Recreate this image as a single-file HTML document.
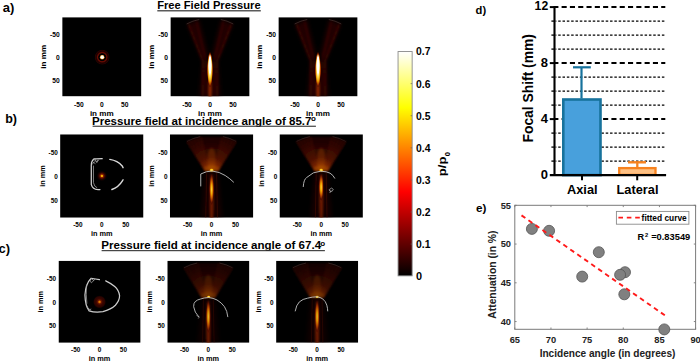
<!DOCTYPE html><html><head><meta charset="utf-8"><style>html,body{margin:0;padding:0;background:#fff;width:700px;height:361px;overflow:hidden}svg{display:block}</style></head><body>
<svg width="700" height="361" viewBox="0 0 700 361" font-family="Liberation Sans" font-weight="bold">
<defs>
<linearGradient id="hot" x1="0" y1="0" x2="0" y2="1">
<stop offset="0" stop-color="#ffffff"/><stop offset="0.25" stop-color="#ffff00"/><stop offset="0.625" stop-color="#ff0000"/><stop offset="1" stop-color="#000000"/></linearGradient>
<radialGradient id="hotspot"><stop offset="0" stop-color="#ffffff"/><stop offset="0.45" stop-color="#ffffff"/><stop offset="0.65" stop-color="#ffe070"/><stop offset="0.82" stop-color="#d05000"/><stop offset="1" stop-color="#400000" stop-opacity="0"/></radialGradient>
<radialGradient id="hotspot2"><stop offset="0" stop-color="#ffd800"/><stop offset="0.16" stop-color="#e8a000"/><stop offset="0.3" stop-color="#902000"/><stop offset="0.55" stop-color="#3a0600"/><stop offset="1" stop-color="#200000" stop-opacity="0"/></radialGradient>
<radialGradient id="hotspot3"><stop offset="0" stop-color="#f0a000"/><stop offset="0.13" stop-color="#c86000"/><stop offset="0.28" stop-color="#6a1400"/><stop offset="0.5" stop-color="#3a0600"/><stop offset="0.8" stop-color="#2a0300"/><stop offset="1" stop-color="#200000" stop-opacity="0"/></radialGradient>
<radialGradient id="ring"><stop offset="0" stop-color="#000" stop-opacity="0"/><stop offset="0.42" stop-color="#000" stop-opacity="0"/><stop offset="0.52" stop-color="#5a0800"/><stop offset="0.6" stop-color="#6a0a00"/><stop offset="0.7" stop-color="#2a0200"/><stop offset="0.78" stop-color="#1a0000"/><stop offset="0.88" stop-color="#2a0300"/><stop offset="1" stop-color="#000" stop-opacity="0"/></radialGradient>
<radialGradient id="beamO"><stop offset="0" stop-color="#fff8c0"/><stop offset="0.4" stop-color="#ffe060"/><stop offset="0.65" stop-color="#e8a000"/><stop offset="0.85" stop-color="#902800"/><stop offset="1" stop-color="#300000" stop-opacity="0"/></radialGradient>
<radialGradient id="beamW"><stop offset="0" stop-color="#ffffff"/><stop offset="0.7" stop-color="#ffffff"/><stop offset="1" stop-color="#fff4b0" stop-opacity="0"/></radialGradient>
<radialGradient id="beam"><stop offset="0" stop-color="#ffffff"/><stop offset="0.3" stop-color="#ffffff"/><stop offset="0.5" stop-color="#fff0a0"/><stop offset="0.68" stop-color="#f0a000"/><stop offset="0.85" stop-color="#802000"/><stop offset="1" stop-color="#300000" stop-opacity="0"/></radialGradient>
<radialGradient id="beamB"><stop offset="0" stop-color="#ffd040"/><stop offset="0.3" stop-color="#f0a800"/><stop offset="0.6" stop-color="#b84800"/><stop offset="0.85" stop-color="#5a1000"/><stop offset="1" stop-color="#300000" stop-opacity="0"/></radialGradient>
<radialGradient id="yspot"><stop offset="0" stop-color="#fff080"/><stop offset="0.5" stop-color="#ffc000"/><stop offset="1" stop-color="#c06000" stop-opacity="0"/></radialGradient>
<linearGradient id="fanG" x1="0" y1="0" x2="0" y2="1"><stop offset="0" stop-color="#2a0300"/><stop offset="0.5" stop-color="#501000"/><stop offset="1" stop-color="#a03c00"/></linearGradient>
<linearGradient id="fanG3" x1="0" y1="0" x2="0" y2="1"><stop offset="0" stop-color="#1a0000"/><stop offset="0.4" stop-color="#3a0800"/><stop offset="0.75" stop-color="#702000"/><stop offset="1" stop-color="#a04000"/></linearGradient>
<radialGradient id="fanHot"><stop offset="0" stop-color="#c06000" stop-opacity="0.8"/><stop offset="0.6" stop-color="#802000" stop-opacity="0.5"/><stop offset="1" stop-color="#400800" stop-opacity="0"/></radialGradient>
<linearGradient id="fanG2" x1="0" y1="0" x2="0" y2="1"><stop offset="0" stop-color="#400600" stop-opacity="0.6"/><stop offset="0.6" stop-color="#802000"/><stop offset="1" stop-color="#d07000"/></linearGradient>
<linearGradient id="colG" x1="0" y1="0" x2="0" y2="1"><stop offset="0" stop-color="#801800"/><stop offset="0.45" stop-color="#e08000"/><stop offset="1" stop-color="#ffe040"/></linearGradient>
<filter id="blur05" x="-50%" y="-50%" width="200%" height="200%"><feGaussianBlur stdDeviation="0.5"/></filter>
<filter id="blur1" x="-50%" y="-50%" width="200%" height="200%"><feGaussianBlur stdDeviation="1.5"/></filter>
<filter id="blur15" x="-50%" y="-50%" width="200%" height="200%"><feGaussianBlur stdDeviation="1.5"/></filter>
<filter id="blur2" x="-50%" y="-50%" width="200%" height="200%"><feGaussianBlur stdDeviation="2.5"/></filter>
</defs>
<text x="2.70" y="12.30" font-size="13" text-anchor="start" fill="#000" >a)</text>
<text x="5.20" y="123.00" font-size="12.5" text-anchor="start" fill="#000" >b)</text>
<text x="-1.60" y="253.00" font-size="13" text-anchor="start" fill="#000" >c)</text>
<text x="475.60" y="14.30" font-size="11.2" text-anchor="start" fill="#000" >d)</text>
<text x="476.00" y="212.00" font-size="11.7" text-anchor="start" fill="#000" >e)</text>
<text x="157.20" y="8.60" font-size="11.15" text-anchor="start" fill="#000" >Free Field Pressure</text>
<rect x="157.3" y="10.2" width="103.5" height="1.2" fill="#333"/>
<text x="92.00" y="124.50" font-size="11.55" text-anchor="start" fill="#000" >Pressure field at incidence angle of 85.7</text>
<text x="311.00" y="120.90" font-size="8" text-anchor="start" fill="#000" >o</text>
<rect x="92.6" y="125.7" width="223.3" height="1.1" fill="#333"/>
<text x="101.30" y="248.50" font-size="11.57" text-anchor="start" fill="#000" >Pressure field at incidence angle of 67.4</text>
<text x="320.30" y="245.90" font-size="8" text-anchor="start" fill="#000" >o</text>
<rect x="101.6" y="250.1" width="223.3" height="1.1" fill="#333"/>
<g transform="translate(62.2,17.2)"><svg width="79.2" height="79.2" viewBox="0 0 100 100" preserveAspectRatio="none" overflow="hidden"><rect width="100" height="100" fill="#000"/><circle cx="50.5" cy="50.5" r="10" fill="url(#ring)"/><circle cx="50.5" cy="50.5" r="2.9" fill="#e07010" filter="url(#blur05)"/><circle cx="50.5" cy="50.5" r="2.3" fill="#fff8d0" filter="url(#blur05)"/><circle cx="50.5" cy="50.5" r="1.5" fill="#ffffff"/></svg></g>
<g transform="translate(170.4,17.2)"><svg width="79.2" height="79.2" viewBox="0 0 100 100" preserveAspectRatio="none" overflow="hidden"><rect width="100" height="100" fill="#000"/><path d="M20.5,8.6 Q28,4.5 36.4,2.9" stroke="#a89890" stroke-width="0.7" fill="none" opacity="0.6"/><path d="M63.6,2.9 Q72,4.5 79.4,8.6" stroke="#a89890" stroke-width="0.7" fill="none" opacity="0.6"/><g filter="url(#blur2)" opacity="0.6"><polygon points="21,9 36,3 48,50 40,55" fill="#380600"/><polygon points="79,9 64,3 52,50 60,55" fill="#380600"/><polygon points="40,55 60,55 64,100 36,100" fill="#2a0400"/></g><g filter="url(#blur1)" opacity="0.7" fill="none"><polyline points="23,9 41,55 40.5,100" stroke="#6a1200" stroke-width="1.5"/><polyline points="77,9 59,55 59.5,100" stroke="#6a1200" stroke-width="1.5"/><polyline points="33,5 45,55 44.5,100" stroke="#5a1000" stroke-width="1.2"/><polyline points="67,5 55,55 55.5,100" stroke="#5a1000" stroke-width="1.2"/></g><line x1="50" y1="10" x2="50" y2="42" stroke="#a02000" stroke-width="1.6" stroke-dasharray="3 4" filter="url(#blur05)"/><g filter="url(#blur1)"><ellipse cx="50" cy="92" rx="2.3" ry="14" fill="#902800" opacity="0.95"/></g><ellipse cx="50" cy="66" rx="3.9" ry="23" fill="url(#beamO)"/><ellipse cx="50" cy="60.6" rx="2.4" ry="14.5" fill="url(#beamW)" filter="url(#blur05)"/></svg></g>
<g transform="translate(278.4,17.2)"><svg width="79.2" height="79.2" viewBox="0 0 100 100" preserveAspectRatio="none" overflow="hidden"><rect width="100" height="100" fill="#000"/><path d="M20.5,8.6 Q28,4.5 36.4,2.9" stroke="#a89890" stroke-width="0.7" fill="none" opacity="0.6"/><path d="M63.6,2.9 Q72,4.5 79.4,8.6" stroke="#a89890" stroke-width="0.7" fill="none" opacity="0.6"/><g filter="url(#blur2)" opacity="0.6"><polygon points="21,9 36,3 48,50 40,55" fill="#380600"/><polygon points="79,9 64,3 52,50 60,55" fill="#380600"/><polygon points="40,55 60,55 64,100 36,100" fill="#2a0400"/></g><g filter="url(#blur1)" opacity="0.7" fill="none"><polyline points="23,9 41,55 40.5,100" stroke="#6a1200" stroke-width="1.5"/><polyline points="77,9 59,55 59.5,100" stroke="#6a1200" stroke-width="1.5"/><polyline points="33,5 45,55 44.5,100" stroke="#5a1000" stroke-width="1.2"/><polyline points="67,5 55,55 55.5,100" stroke="#5a1000" stroke-width="1.2"/></g><line x1="50" y1="10" x2="50" y2="42" stroke="#a02000" stroke-width="1.6" stroke-dasharray="3 4" filter="url(#blur05)"/><g filter="url(#blur1)"><ellipse cx="50" cy="92" rx="2.3" ry="14" fill="#902800" opacity="0.95"/></g><ellipse cx="50" cy="66" rx="3.9" ry="23" fill="url(#beamO)"/><ellipse cx="50" cy="60.6" rx="2.4" ry="14.5" fill="url(#beamW)" filter="url(#blur05)"/></svg></g>
<text x="59.70" y="37.25" font-size="6.7" text-anchor="end" fill="#000" >-50</text>
<text x="59.70" y="60.25" font-size="6.7" text-anchor="end" fill="#000" >0</text>
<text x="59.70" y="83.25" font-size="6.7" text-anchor="end" fill="#000" >50</text>
<text x="78.80" y="106.70" font-size="6.7" text-anchor="middle" fill="#000" >-50</text>
<text x="101.80" y="106.70" font-size="6.7" text-anchor="middle" fill="#000" >0</text>
<text x="124.80" y="106.70" font-size="6.7" text-anchor="middle" fill="#000" >50</text>
<text x="101.80" y="115.90" font-size="8.1" text-anchor="middle" fill="#000" >in mm</text>
<text transform="translate(45.80,56.80) rotate(-90)" x="0" y="0" font-size="8.1" text-anchor="middle">in mm</text>
<text x="167.90" y="37.25" font-size="6.7" text-anchor="end" fill="#000" >-50</text>
<text x="167.90" y="60.25" font-size="6.7" text-anchor="end" fill="#000" >0</text>
<text x="167.90" y="83.25" font-size="6.7" text-anchor="end" fill="#000" >50</text>
<text x="187.00" y="106.70" font-size="6.7" text-anchor="middle" fill="#000" >-50</text>
<text x="210.00" y="106.70" font-size="6.7" text-anchor="middle" fill="#000" >0</text>
<text x="233.00" y="106.70" font-size="6.7" text-anchor="middle" fill="#000" >50</text>
<text x="210.00" y="115.90" font-size="8.1" text-anchor="middle" fill="#000" >in mm</text>
<text transform="translate(154.00,56.80) rotate(-90)" x="0" y="0" font-size="8.1" text-anchor="middle">in mm</text>
<text x="275.90" y="37.25" font-size="6.7" text-anchor="end" fill="#000" >-50</text>
<text x="275.90" y="60.25" font-size="6.7" text-anchor="end" fill="#000" >0</text>
<text x="275.90" y="83.25" font-size="6.7" text-anchor="end" fill="#000" >50</text>
<text x="295.00" y="106.70" font-size="6.7" text-anchor="middle" fill="#000" >-50</text>
<text x="318.00" y="106.70" font-size="6.7" text-anchor="middle" fill="#000" >0</text>
<text x="341.00" y="106.70" font-size="6.7" text-anchor="middle" fill="#000" >50</text>
<text x="318.00" y="115.90" font-size="8.1" text-anchor="middle" fill="#000" >in mm</text>
<text transform="translate(262.00,56.80) rotate(-90)" x="0" y="0" font-size="8.1" text-anchor="middle">in mm</text>
<g transform="translate(60.1,134.3)"><svg width="83.4" height="83.4" viewBox="0 0 100 100" preserveAspectRatio="none" overflow="hidden"><rect width="100" height="100" fill="#000"/><path d="M50.5,29.2 L43.5,29.4 L40.5,29.6 Q37.4,32 37.4,37 L37.4,60.3 Q39,66 45.4,66.2 L47.8,66.2" stroke="#d0d0d0" stroke-width="1.5" fill="none" stroke-linecap="round" stroke-linejoin="round"/><path d="M40.5,30 l3,3 l2,-2 M39,33 l3,2 M42,30 l2,4 l2,-3 M38.5,36 l2.5,-3 M40,38 L40,58 Q41,63 44,64" stroke="#a8a8a8" stroke-width="0.9" fill="none" stroke-linecap="round" stroke-linejoin="round"/><path d="M59.6,30.1 Q69,31.5 74.5,38 L75.5,40" stroke="#d8d8d8" stroke-width="1.7" fill="none" stroke-linecap="round" stroke-linejoin="round"/><path d="M75.5,54.5 L74.5,56.2 Q70,63.5 62.1,66.2" stroke="#d8d8d8" stroke-width="1.7" fill="none" stroke-linecap="round" stroke-linejoin="round"/><circle cx="50.1" cy="49.9" r="6.3" fill="url(#hotspot2)"/></svg></g>
<g transform="translate(169.9,134.3)"><svg width="83.4" height="83.4" viewBox="0 0 100 100" preserveAspectRatio="none" overflow="hidden"><rect width="100" height="100" fill="#000"/><path d="M20.5,8.6 Q28,4.5 36.4,2.9" stroke="#a89890" stroke-width="0.7" fill="none" opacity="0.6"/><path d="M63.6,2.9 Q72,4.5 79.4,8.6" stroke="#a89890" stroke-width="0.7" fill="none" opacity="0.6"/><g opacity="0.9"><radialGradient id="cone44" gradientUnits="userSpaceOnUse" cx="50" cy="44" r="44"><stop offset="0" stop-color="#d07000"/><stop offset="0.15" stop-color="#983800"/><stop offset="0.38" stop-color="#440c00"/><stop offset="0.8" stop-color="#220200"/><stop offset="1" stop-color="#1a0100"/></radialGradient><polygon points="19,8 37,2.5 63,2.5 81,8 58,44 42,44" fill="url(#cone44)" filter="url(#blur15)"/><g filter="url(#blur1)" opacity="0.45"><line x1="21" y1="8.7" x2="42.8" y2="44" stroke="#8a2400" stroke-width="1.3"/><line x1="25" y1="7.2" x2="43.8" y2="44" stroke="#8a2400" stroke-width="1.3"/><line x1="29" y1="5.7" x2="44.8" y2="44" stroke="#8a2400" stroke-width="1.3"/><line x1="33" y1="4.3" x2="45.8" y2="44" stroke="#8a2400" stroke-width="1.3"/><line x1="37" y1="3.0" x2="46.8" y2="44" stroke="#8a2400" stroke-width="1.3"/><line x1="63" y1="3.0" x2="53.2" y2="44" stroke="#8a2400" stroke-width="1.3"/><line x1="67" y1="4.3" x2="54.2" y2="44" stroke="#8a2400" stroke-width="1.3"/><line x1="71" y1="5.7" x2="55.2" y2="44" stroke="#8a2400" stroke-width="1.3"/><line x1="75" y1="7.2" x2="56.2" y2="44" stroke="#8a2400" stroke-width="1.3"/><line x1="79" y1="8.7" x2="57.2" y2="44" stroke="#8a2400" stroke-width="1.3"/></g><line x1="50" y1="14" x2="50" y2="44" stroke="url(#colG)" stroke-width="2.4" stroke-dasharray="2 1.7" filter="url(#blur05)"/><ellipse cx="50" cy="41" rx="9" ry="3.5" fill="#c06000" opacity="0.45" filter="url(#blur1)"/><ellipse cx="50" cy="30" rx="5" ry="14" fill="#c05000" opacity="0.3" filter="url(#blur1)"/><g filter="url(#blur2)" opacity="0.5"><polygon points="42,45 58,45 63,100 37,100" fill="#2e0400"/></g><g filter="url(#blur05)" opacity="0.6"><line x1="44" y1="46" x2="43" y2="100" stroke="#5a1000" stroke-width="1"/><line x1="56" y1="46" x2="57" y2="100" stroke="#5a1000" stroke-width="1"/></g></g><g filter="url(#blur1)"><ellipse cx="50" cy="80.0" rx="2.4" ry="33.0" fill="#8a2400" opacity="0.75"/></g><ellipse cx="50" cy="66.0" rx="3.0" ry="19.0" fill="url(#beamB)" opacity="1.0"/><ellipse cx="50" cy="43" rx="3" ry="2.5" fill="url(#yspot)"/><path d="M37,62 L37,47.6 Q44,44 50.3,44 Q60,45 66.3,49.4 Q72,53 76.3,57.3" stroke="#b8b8b8" stroke-width="1.15" fill="none" stroke-linecap="round" stroke-linejoin="round"/></svg></g>
<g transform="translate(279.5,134.3)"><svg width="83.4" height="83.4" viewBox="0 0 100 100" preserveAspectRatio="none" overflow="hidden"><rect width="100" height="100" fill="#000"/><path d="M20.5,8.6 Q28,4.5 36.4,2.9" stroke="#a89890" stroke-width="0.7" fill="none" opacity="0.6"/><path d="M63.6,2.9 Q72,4.5 79.4,8.6" stroke="#a89890" stroke-width="0.7" fill="none" opacity="0.6"/><g opacity="0.9"><radialGradient id="cone44" gradientUnits="userSpaceOnUse" cx="50" cy="44" r="44"><stop offset="0" stop-color="#d07000"/><stop offset="0.15" stop-color="#983800"/><stop offset="0.38" stop-color="#440c00"/><stop offset="0.8" stop-color="#220200"/><stop offset="1" stop-color="#1a0100"/></radialGradient><polygon points="19,8 37,2.5 63,2.5 81,8 58,44 42,44" fill="url(#cone44)" filter="url(#blur15)"/><g filter="url(#blur1)" opacity="0.45"><line x1="21" y1="8.7" x2="42.8" y2="44" stroke="#8a2400" stroke-width="1.3"/><line x1="25" y1="7.2" x2="43.8" y2="44" stroke="#8a2400" stroke-width="1.3"/><line x1="29" y1="5.7" x2="44.8" y2="44" stroke="#8a2400" stroke-width="1.3"/><line x1="33" y1="4.3" x2="45.8" y2="44" stroke="#8a2400" stroke-width="1.3"/><line x1="37" y1="3.0" x2="46.8" y2="44" stroke="#8a2400" stroke-width="1.3"/><line x1="63" y1="3.0" x2="53.2" y2="44" stroke="#8a2400" stroke-width="1.3"/><line x1="67" y1="4.3" x2="54.2" y2="44" stroke="#8a2400" stroke-width="1.3"/><line x1="71" y1="5.7" x2="55.2" y2="44" stroke="#8a2400" stroke-width="1.3"/><line x1="75" y1="7.2" x2="56.2" y2="44" stroke="#8a2400" stroke-width="1.3"/><line x1="79" y1="8.7" x2="57.2" y2="44" stroke="#8a2400" stroke-width="1.3"/></g><line x1="50" y1="14" x2="50" y2="44" stroke="url(#colG)" stroke-width="2.4" stroke-dasharray="2 1.7" filter="url(#blur05)"/><ellipse cx="50" cy="41" rx="9" ry="3.5" fill="#c06000" opacity="0.45" filter="url(#blur1)"/><ellipse cx="50" cy="30" rx="5" ry="14" fill="#c05000" opacity="0.3" filter="url(#blur1)"/><g filter="url(#blur2)" opacity="0.5"><polygon points="42,45 58,45 63,100 37,100" fill="#2e0400"/></g><g filter="url(#blur05)" opacity="0.6"><line x1="44" y1="46" x2="43" y2="100" stroke="#5a1000" stroke-width="1"/><line x1="56" y1="46" x2="57" y2="100" stroke="#5a1000" stroke-width="1"/></g></g><g filter="url(#blur1)"><ellipse cx="50" cy="77.5" rx="2.4" ry="30.5" fill="#8a2400" opacity="0.75"/></g><ellipse cx="50" cy="63.5" rx="3.0" ry="16.5" fill="url(#beamB)" opacity="1.0"/><ellipse cx="50" cy="43" rx="3" ry="2.5" fill="url(#yspot)"/><path d="M28.5,62.7 Q29,54 32.6,51.8 Q40,44.5 49.5,44.2 Q57,44.6 60.6,46.6 Q64.5,49 66.2,52.6" stroke="#b8b8b8" stroke-width="1.15" fill="none" stroke-linecap="round" stroke-linejoin="round"/><path d="M60,66 l2.5,-1.5 l2,1.5 l-1.5,2.5 l-2.5,-0.5 z M61.5,68 l-1,2" stroke="#bdbdbd" stroke-width="0.8" fill="none" stroke-linecap="round" stroke-linejoin="round"/></svg></g>
<text x="57.80" y="155.19" font-size="6.4" text-anchor="end" fill="#000" >-50</text>
<text x="57.80" y="179.14" font-size="6.4" text-anchor="end" fill="#000" >0</text>
<text x="57.80" y="203.09" font-size="6.4" text-anchor="end" fill="#000" >50</text>
<text x="77.85" y="227.18" font-size="6.4" text-anchor="middle" fill="#000" >-50</text>
<text x="101.80" y="227.18" font-size="6.4" text-anchor="middle" fill="#000" >0</text>
<text x="125.75" y="227.18" font-size="6.4" text-anchor="middle" fill="#000" >50</text>
<text x="101.80" y="235.80" font-size="7.35" text-anchor="middle" fill="#000" >in mm</text>
<text transform="translate(44.50,176.00) rotate(-90)" x="0" y="0" font-size="7.35" text-anchor="middle">in mm</text>
<text x="167.60" y="155.19" font-size="6.4" text-anchor="end" fill="#000" >-50</text>
<text x="167.60" y="179.14" font-size="6.4" text-anchor="end" fill="#000" >0</text>
<text x="167.60" y="203.09" font-size="6.4" text-anchor="end" fill="#000" >50</text>
<text x="187.65" y="227.18" font-size="6.4" text-anchor="middle" fill="#000" >-50</text>
<text x="211.60" y="227.18" font-size="6.4" text-anchor="middle" fill="#000" >0</text>
<text x="235.55" y="227.18" font-size="6.4" text-anchor="middle" fill="#000" >50</text>
<text x="211.60" y="235.80" font-size="7.35" text-anchor="middle" fill="#000" >in mm</text>
<text transform="translate(154.30,176.00) rotate(-90)" x="0" y="0" font-size="7.35" text-anchor="middle">in mm</text>
<text x="277.20" y="155.19" font-size="6.4" text-anchor="end" fill="#000" >-50</text>
<text x="277.20" y="179.14" font-size="6.4" text-anchor="end" fill="#000" >0</text>
<text x="277.20" y="203.09" font-size="6.4" text-anchor="end" fill="#000" >50</text>
<text x="297.25" y="227.18" font-size="6.4" text-anchor="middle" fill="#000" >-50</text>
<text x="321.20" y="227.18" font-size="6.4" text-anchor="middle" fill="#000" >0</text>
<text x="345.15" y="227.18" font-size="6.4" text-anchor="middle" fill="#000" >50</text>
<text x="321.20" y="235.80" font-size="7.35" text-anchor="middle" fill="#000" >in mm</text>
<text transform="translate(263.90,176.00) rotate(-90)" x="0" y="0" font-size="7.35" text-anchor="middle">in mm</text>
<g transform="translate(58.5,260.7)"><svg width="82.1" height="82.1" viewBox="0 0 100 100" preserveAspectRatio="none" overflow="hidden"><rect width="100" height="100" fill="#000"/><path d="M49.9,23.1 L45,22.3 L39.8,21.4 Q33,28 32.2,41.8 Q32.5,55 37.3,61.1 Q45,63.5 54.1,62 Q64,59.5 69.3,54.3 Q74.5,48.5 74.4,42.5 Q73.5,36 68.5,31.5 Q63,27 57.5,24.5" stroke="#cccccc" stroke-width="1.5" fill="none" stroke-linecap="round" stroke-linejoin="round"/><path d="M39.8,21.4 l3,3 l1.5,-2 M38,23 l2,4 l3,-3 M36,58 l3,2 M34.5,55 l3,5 l2,-1 M34,30 Q33.5,42 34.5,52" stroke="#a0a0a0" stroke-width="0.9" fill="none" stroke-linecap="round" stroke-linejoin="round"/><circle cx="50" cy="50.2" r="8" fill="url(#hotspot3)"/></svg></g>
<g transform="translate(167.3,260.7)"><svg width="82.1" height="82.1" viewBox="0 0 100 100" preserveAspectRatio="none" overflow="hidden"><rect width="100" height="100" fill="#000"/><path d="M20.5,8.6 Q28,4.5 36.4,2.9" stroke="#a89890" stroke-width="0.7" fill="none" opacity="0.6"/><path d="M63.6,2.9 Q72,4.5 79.4,8.6" stroke="#a89890" stroke-width="0.7" fill="none" opacity="0.6"/><g opacity="0.68"><radialGradient id="cone45" gradientUnits="userSpaceOnUse" cx="50" cy="45" r="44"><stop offset="0" stop-color="#d07000"/><stop offset="0.15" stop-color="#983800"/><stop offset="0.38" stop-color="#440c00"/><stop offset="0.8" stop-color="#220200"/><stop offset="1" stop-color="#1a0100"/></radialGradient><polygon points="19,8 37,2.5 63,2.5 81,8 58,45 42,45" fill="url(#cone45)" filter="url(#blur15)"/><g filter="url(#blur1)" opacity="0.45"><line x1="21" y1="8.7" x2="42.8" y2="45" stroke="#8a2400" stroke-width="1.3"/><line x1="25" y1="7.2" x2="43.8" y2="45" stroke="#8a2400" stroke-width="1.3"/><line x1="29" y1="5.7" x2="44.8" y2="45" stroke="#8a2400" stroke-width="1.3"/><line x1="33" y1="4.3" x2="45.8" y2="45" stroke="#8a2400" stroke-width="1.3"/><line x1="37" y1="3.0" x2="46.8" y2="45" stroke="#8a2400" stroke-width="1.3"/><line x1="63" y1="3.0" x2="53.2" y2="45" stroke="#8a2400" stroke-width="1.3"/><line x1="67" y1="4.3" x2="54.2" y2="45" stroke="#8a2400" stroke-width="1.3"/><line x1="71" y1="5.7" x2="55.2" y2="45" stroke="#8a2400" stroke-width="1.3"/><line x1="75" y1="7.2" x2="56.2" y2="45" stroke="#8a2400" stroke-width="1.3"/><line x1="79" y1="8.7" x2="57.2" y2="45" stroke="#8a2400" stroke-width="1.3"/></g><line x1="50" y1="14" x2="50" y2="45" stroke="url(#colG)" stroke-width="2.4" stroke-dasharray="2 1.7" filter="url(#blur05)"/><ellipse cx="50" cy="42" rx="9" ry="3.5" fill="#c06000" opacity="0.45" filter="url(#blur1)"/><ellipse cx="50" cy="31" rx="5" ry="14" fill="#c05000" opacity="0.3" filter="url(#blur1)"/><g filter="url(#blur2)" opacity="0.5"><polygon points="42,46 58,46 63,100 37,100" fill="#2e0400"/></g><g filter="url(#blur05)" opacity="0.6"><line x1="44" y1="47" x2="43" y2="100" stroke="#5a1000" stroke-width="1"/><line x1="56" y1="47" x2="57" y2="100" stroke="#5a1000" stroke-width="1"/></g></g><g filter="url(#blur1)"><ellipse cx="50" cy="82.0" rx="2.4" ry="34.0" fill="#8a2400" opacity="0.75"/></g><ellipse cx="50" cy="68.0" rx="3.0" ry="20.0" fill="url(#beamB)" opacity="0.85"/><ellipse cx="50.4" cy="44" rx="2.5" ry="2" fill="url(#yspot)"/><path d="M38.2,68.2 Q33,63 32.1,56 Q32,51.5 34,49.9 Q36.5,47.5 40.1,46.8 Q45,45 50.4,44.8 Q56,45.5 60.5,47.8 Q66,51 69.6,56 Q73,61 73.7,68.2" stroke="#b8b8b8" stroke-width="1.15" fill="none" stroke-linecap="round" stroke-linejoin="round"/><path d="M36,67 l3,1.5 l-1,1.5" stroke="#b0b0b0" stroke-width="0.8" fill="none" stroke-linecap="round" stroke-linejoin="round"/></svg></g>
<g transform="translate(276.1,260.7)"><svg width="82.1" height="82.1" viewBox="0 0 100 100" preserveAspectRatio="none" overflow="hidden"><rect width="100" height="100" fill="#000"/><path d="M20.5,8.6 Q28,4.5 36.4,2.9" stroke="#a89890" stroke-width="0.7" fill="none" opacity="0.6"/><path d="M63.6,2.9 Q72,4.5 79.4,8.6" stroke="#a89890" stroke-width="0.7" fill="none" opacity="0.6"/><g opacity="0.68"><radialGradient id="cone45" gradientUnits="userSpaceOnUse" cx="50" cy="45" r="44"><stop offset="0" stop-color="#d07000"/><stop offset="0.15" stop-color="#983800"/><stop offset="0.38" stop-color="#440c00"/><stop offset="0.8" stop-color="#220200"/><stop offset="1" stop-color="#1a0100"/></radialGradient><polygon points="19,8 37,2.5 63,2.5 81,8 58,45 42,45" fill="url(#cone45)" filter="url(#blur15)"/><g filter="url(#blur1)" opacity="0.45"><line x1="21" y1="8.7" x2="42.8" y2="45" stroke="#8a2400" stroke-width="1.3"/><line x1="25" y1="7.2" x2="43.8" y2="45" stroke="#8a2400" stroke-width="1.3"/><line x1="29" y1="5.7" x2="44.8" y2="45" stroke="#8a2400" stroke-width="1.3"/><line x1="33" y1="4.3" x2="45.8" y2="45" stroke="#8a2400" stroke-width="1.3"/><line x1="37" y1="3.0" x2="46.8" y2="45" stroke="#8a2400" stroke-width="1.3"/><line x1="63" y1="3.0" x2="53.2" y2="45" stroke="#8a2400" stroke-width="1.3"/><line x1="67" y1="4.3" x2="54.2" y2="45" stroke="#8a2400" stroke-width="1.3"/><line x1="71" y1="5.7" x2="55.2" y2="45" stroke="#8a2400" stroke-width="1.3"/><line x1="75" y1="7.2" x2="56.2" y2="45" stroke="#8a2400" stroke-width="1.3"/><line x1="79" y1="8.7" x2="57.2" y2="45" stroke="#8a2400" stroke-width="1.3"/></g><line x1="50" y1="14" x2="50" y2="45" stroke="url(#colG)" stroke-width="2.4" stroke-dasharray="2 1.7" filter="url(#blur05)"/><ellipse cx="50" cy="42" rx="9" ry="3.5" fill="#c06000" opacity="0.45" filter="url(#blur1)"/><ellipse cx="50" cy="31" rx="5" ry="14" fill="#c05000" opacity="0.3" filter="url(#blur1)"/><g filter="url(#blur2)" opacity="0.5"><polygon points="42,46 58,46 63,100 37,100" fill="#2e0400"/></g><g filter="url(#blur05)" opacity="0.6"><line x1="44" y1="47" x2="43" y2="100" stroke="#5a1000" stroke-width="1"/><line x1="56" y1="47" x2="57" y2="100" stroke="#5a1000" stroke-width="1"/></g></g><g filter="url(#blur1)"><ellipse cx="50" cy="82.0" rx="2.4" ry="34.0" fill="#8a2400" opacity="0.75"/></g><ellipse cx="50" cy="68.0" rx="3.0" ry="20.0" fill="url(#beamB)" opacity="0.85"/><ellipse cx="50" cy="44" rx="2.5" ry="2" fill="url(#yspot)"/><path d="M23.3,61.2 Q24.5,54 28.3,50.2 Q32.5,46.5 38.5,45.6 Q44,44 49.6,44 Q54,44.5 56.8,46.5 Q60.5,49.5 61.8,54.2 Q62.8,58 62.9,61.2" stroke="#b8b8b8" stroke-width="1.15" fill="none" stroke-linecap="round" stroke-linejoin="round"/></svg></g>
<text x="56.00" y="280.74" font-size="6.4" text-anchor="end" fill="#000" >-50</text>
<text x="56.00" y="304.59" font-size="6.4" text-anchor="end" fill="#000" >0</text>
<text x="56.00" y="328.44" font-size="6.4" text-anchor="end" fill="#000" >50</text>
<text x="75.70" y="351.88" font-size="6.4" text-anchor="middle" fill="#000" >-50</text>
<text x="99.55" y="351.88" font-size="6.4" text-anchor="middle" fill="#000" >0</text>
<text x="123.40" y="351.88" font-size="6.4" text-anchor="middle" fill="#000" >50</text>
<text x="99.55" y="361.00" font-size="7.35" text-anchor="middle" fill="#000" >in mm</text>
<text transform="translate(42.90,301.75) rotate(-90)" x="0" y="0" font-size="7.35" text-anchor="middle">in mm</text>
<text x="164.80" y="280.74" font-size="6.4" text-anchor="end" fill="#000" >-50</text>
<text x="164.80" y="304.59" font-size="6.4" text-anchor="end" fill="#000" >0</text>
<text x="164.80" y="328.44" font-size="6.4" text-anchor="end" fill="#000" >50</text>
<text x="184.50" y="351.88" font-size="6.4" text-anchor="middle" fill="#000" >-50</text>
<text x="208.35" y="351.88" font-size="6.4" text-anchor="middle" fill="#000" >0</text>
<text x="232.20" y="351.88" font-size="6.4" text-anchor="middle" fill="#000" >50</text>
<text x="208.35" y="361.00" font-size="7.35" text-anchor="middle" fill="#000" >in mm</text>
<text transform="translate(151.70,301.75) rotate(-90)" x="0" y="0" font-size="7.35" text-anchor="middle">in mm</text>
<text x="273.60" y="280.74" font-size="6.4" text-anchor="end" fill="#000" >-50</text>
<text x="273.60" y="304.59" font-size="6.4" text-anchor="end" fill="#000" >0</text>
<text x="273.60" y="328.44" font-size="6.4" text-anchor="end" fill="#000" >50</text>
<text x="293.30" y="351.88" font-size="6.4" text-anchor="middle" fill="#000" >-50</text>
<text x="317.15" y="351.88" font-size="6.4" text-anchor="middle" fill="#000" >0</text>
<text x="341.00" y="351.88" font-size="6.4" text-anchor="middle" fill="#000" >50</text>
<text x="317.15" y="361.00" font-size="7.35" text-anchor="middle" fill="#000" >in mm</text>
<text transform="translate(260.50,301.75) rotate(-90)" x="0" y="0" font-size="7.35" text-anchor="middle">in mm</text>
<rect x="398.05" y="51.55" width="14.1" height="224.3" fill="url(#hot)" stroke="#8a8a8a" stroke-width="0.9"/>
<text x="416.00" y="280.08" font-size="10.9" text-anchor="start" fill="#000" >0</text>
<line x1="410.6" y1="244.09" x2="412.1" y2="244.09" stroke="#666" stroke-width="0.7"/>
<text x="416.00" y="247.99" font-size="10.9" text-anchor="start" fill="#000"  textLength="14.4" lengthAdjust="spacingAndGlyphs">0.1</text>
<line x1="410.6" y1="212.00" x2="412.1" y2="212.00" stroke="#666" stroke-width="0.7"/>
<text x="416.00" y="215.90" font-size="10.9" text-anchor="start" fill="#000"  textLength="14.4" lengthAdjust="spacingAndGlyphs">0.2</text>
<line x1="410.6" y1="179.91" x2="412.1" y2="179.91" stroke="#666" stroke-width="0.7"/>
<text x="416.00" y="183.81" font-size="10.9" text-anchor="start" fill="#000"  textLength="14.4" lengthAdjust="spacingAndGlyphs">0.3</text>
<line x1="410.6" y1="147.82" x2="412.1" y2="147.82" stroke="#666" stroke-width="0.7"/>
<text x="416.00" y="151.72" font-size="10.9" text-anchor="start" fill="#000"  textLength="14.4" lengthAdjust="spacingAndGlyphs">0.4</text>
<line x1="410.6" y1="115.73" x2="412.1" y2="115.73" stroke="#666" stroke-width="0.7"/>
<text x="416.00" y="119.63" font-size="10.9" text-anchor="start" fill="#000"  textLength="14.4" lengthAdjust="spacingAndGlyphs">0.5</text>
<line x1="410.6" y1="83.64" x2="412.1" y2="83.64" stroke="#666" stroke-width="0.7"/>
<text x="416.00" y="87.54" font-size="10.9" text-anchor="start" fill="#000"  textLength="14.4" lengthAdjust="spacingAndGlyphs">0.6</text>
<text x="416.00" y="55.45" font-size="10.9" text-anchor="start" fill="#000"  textLength="14.4" lengthAdjust="spacingAndGlyphs">0.7</text>
<text transform="translate(445.8,176.2) rotate(-90)" font-size="10.4"><tspan textLength="19.6" lengthAdjust="spacingAndGlyphs">p/p</tspan><tspan font-size="7.6" dy="4.6" dx="0.3">0</tspan></text>
<line x1="555.5" y1="161.10" x2="665.3" y2="161.10" stroke="#000" stroke-width="1.35" stroke-dasharray="2.5 1.82" stroke-dashoffset="1.62"/>
<line x1="551.4" y1="161.10" x2="554.5" y2="161.10" stroke="#000" stroke-width="1.3"/>
<line x1="555.5" y1="147.10" x2="665.3" y2="147.10" stroke="#000" stroke-width="1.35" stroke-dasharray="2.5 1.82" stroke-dashoffset="1.62"/>
<line x1="551.4" y1="147.10" x2="554.5" y2="147.10" stroke="#000" stroke-width="1.3"/>
<line x1="555.5" y1="133.10" x2="665.3" y2="133.10" stroke="#000" stroke-width="1.35" stroke-dasharray="2.5 1.82" stroke-dashoffset="1.62"/>
<line x1="551.4" y1="133.10" x2="554.5" y2="133.10" stroke="#000" stroke-width="1.3"/>
<line x1="554.5" y1="119.10" x2="665.3" y2="119.10" stroke="#000" stroke-width="2" stroke-dasharray="5.1 3.2" stroke-dashoffset="1.2"/>
<line x1="549.8" y1="119.10" x2="554.5" y2="119.10" stroke="#000" stroke-width="2"/>
<line x1="555.5" y1="105.10" x2="665.3" y2="105.10" stroke="#000" stroke-width="1.35" stroke-dasharray="2.5 1.82" stroke-dashoffset="1.62"/>
<line x1="551.4" y1="105.10" x2="554.5" y2="105.10" stroke="#000" stroke-width="1.3"/>
<line x1="555.5" y1="91.10" x2="665.3" y2="91.10" stroke="#000" stroke-width="1.35" stroke-dasharray="2.5 1.82" stroke-dashoffset="1.62"/>
<line x1="551.4" y1="91.10" x2="554.5" y2="91.10" stroke="#000" stroke-width="1.3"/>
<line x1="555.5" y1="77.10" x2="665.3" y2="77.10" stroke="#000" stroke-width="1.35" stroke-dasharray="2.5 1.82" stroke-dashoffset="1.62"/>
<line x1="551.4" y1="77.10" x2="554.5" y2="77.10" stroke="#000" stroke-width="1.3"/>
<line x1="554.5" y1="63.10" x2="665.3" y2="63.10" stroke="#000" stroke-width="2" stroke-dasharray="5.1 3.2" stroke-dashoffset="1.2"/>
<line x1="549.8" y1="63.10" x2="554.5" y2="63.10" stroke="#000" stroke-width="2"/>
<line x1="555.5" y1="49.10" x2="665.3" y2="49.10" stroke="#000" stroke-width="1.35" stroke-dasharray="2.5 1.82" stroke-dashoffset="1.62"/>
<line x1="551.4" y1="49.10" x2="554.5" y2="49.10" stroke="#000" stroke-width="1.3"/>
<line x1="555.5" y1="35.10" x2="665.3" y2="35.10" stroke="#000" stroke-width="1.35" stroke-dasharray="2.5 1.82" stroke-dashoffset="1.62"/>
<line x1="551.4" y1="35.10" x2="554.5" y2="35.10" stroke="#000" stroke-width="1.3"/>
<line x1="555.5" y1="21.10" x2="665.3" y2="21.10" stroke="#000" stroke-width="1.35" stroke-dasharray="2.5 1.82" stroke-dashoffset="1.62"/>
<line x1="551.4" y1="21.10" x2="554.5" y2="21.10" stroke="#000" stroke-width="1.3"/>
<line x1="554.5" y1="7.10" x2="665.3" y2="7.10" stroke="#000" stroke-width="2" stroke-dasharray="5.1 3.2" stroke-dashoffset="1.2"/>
<line x1="549.8" y1="7.10" x2="554.5" y2="7.10" stroke="#000" stroke-width="2"/>
<rect x="563.3" y="99.5" width="37.2" height="75.6" fill="#48a0dc" stroke="#17729c" stroke-width="2.6"/>
<rect x="619.2" y="168.1" width="36.3" height="6.8" fill="#fdc084" stroke="#f7821e" stroke-width="2.3"/>
<line x1="581.5" y1="98.5" x2="581.5" y2="67.3" stroke="#17729c" stroke-width="2.2"/>
<line x1="573" y1="67.3" x2="590.8" y2="67.3" stroke="#17729c" stroke-width="2.2"/>
<line x1="637.3" y1="167" x2="637.3" y2="162.3" stroke="#f7821e" stroke-width="2.3"/>
<line x1="628" y1="162.3" x2="646" y2="162.3" stroke="#f7821e" stroke-width="2.4"/>
<line x1="554.5" y1="6" x2="554.5" y2="176" stroke="#000" stroke-width="2.1"/>
<line x1="549.8" y1="175.1" x2="666.1" y2="175.1" stroke="#000" stroke-width="2.2"/>
<line x1="582" y1="175" x2="582" y2="180.3" stroke="#000" stroke-width="2"/>
<line x1="637.2" y1="175" x2="637.2" y2="180.3" stroke="#000" stroke-width="2"/>
<text x="548.00" y="179.00" font-size="13" text-anchor="end" fill="#000" >0</text>
<text x="548.00" y="123.00" font-size="13" text-anchor="end" fill="#000" >4</text>
<text x="548.00" y="67.00" font-size="13" text-anchor="end" fill="#000" >8</text>
<text x="534.60" y="10.40" font-size="13" text-anchor="start" fill="#000" textLength="13.6" lengthAdjust="spacingAndGlyphs">12</text>
<text x="582.30" y="193.50" font-size="12.8" text-anchor="middle" fill="#000" >Axial</text>
<text x="637.50" y="193.50" font-size="12.8" text-anchor="middle" fill="#000" >Lateral</text>
<text transform="translate(532.9,88.3) rotate(-90)" font-size="13.85" text-anchor="middle">Focal Shift (mm)</text>
<rect x="514.8" y="205.3" width="180.80" height="124.00" fill="#fff" stroke="#7a7a7a" stroke-width="1"/>
<line x1="514.80" y1="329.3" x2="514.80" y2="327.5" stroke="#7a7a7a" stroke-width="0.9"/>
<line x1="514.80" y1="205.3" x2="514.80" y2="207.10000000000002" stroke="#7a7a7a" stroke-width="0.9"/>
<text x="514.80" y="342.70" font-size="9.3" text-anchor="middle" fill="#222" >65</text>
<line x1="550.96" y1="329.3" x2="550.96" y2="327.5" stroke="#7a7a7a" stroke-width="0.9"/>
<line x1="550.96" y1="205.3" x2="550.96" y2="207.10000000000002" stroke="#7a7a7a" stroke-width="0.9"/>
<text x="550.96" y="342.70" font-size="9.3" text-anchor="middle" fill="#222" >70</text>
<line x1="587.12" y1="329.3" x2="587.12" y2="327.5" stroke="#7a7a7a" stroke-width="0.9"/>
<line x1="587.12" y1="205.3" x2="587.12" y2="207.10000000000002" stroke="#7a7a7a" stroke-width="0.9"/>
<text x="587.12" y="342.70" font-size="9.3" text-anchor="middle" fill="#222" >75</text>
<line x1="623.28" y1="329.3" x2="623.28" y2="327.5" stroke="#7a7a7a" stroke-width="0.9"/>
<line x1="623.28" y1="205.3" x2="623.28" y2="207.10000000000002" stroke="#7a7a7a" stroke-width="0.9"/>
<text x="623.28" y="342.70" font-size="9.3" text-anchor="middle" fill="#222" >80</text>
<line x1="659.44" y1="329.3" x2="659.44" y2="327.5" stroke="#7a7a7a" stroke-width="0.9"/>
<line x1="659.44" y1="205.3" x2="659.44" y2="207.10000000000002" stroke="#7a7a7a" stroke-width="0.9"/>
<text x="659.44" y="342.70" font-size="9.3" text-anchor="middle" fill="#222" >85</text>
<line x1="695.60" y1="329.3" x2="695.60" y2="327.5" stroke="#7a7a7a" stroke-width="0.9"/>
<line x1="695.60" y1="205.3" x2="695.60" y2="207.10000000000002" stroke="#7a7a7a" stroke-width="0.9"/>
<text x="695.60" y="342.70" font-size="9.3" text-anchor="middle" fill="#222" >90</text>
<line x1="514.8" y1="321.55" x2="516.5999999999999" y2="321.55" stroke="#7a7a7a" stroke-width="0.9"/>
<line x1="695.6" y1="321.55" x2="693.8000000000001" y2="321.55" stroke="#7a7a7a" stroke-width="0.9"/>
<text x="511.00" y="324.85" font-size="9.3" text-anchor="end" fill="#222" >40</text>
<line x1="514.8" y1="282.80" x2="516.5999999999999" y2="282.80" stroke="#7a7a7a" stroke-width="0.9"/>
<line x1="695.6" y1="282.80" x2="693.8000000000001" y2="282.80" stroke="#7a7a7a" stroke-width="0.9"/>
<text x="511.00" y="286.10" font-size="9.3" text-anchor="end" fill="#222" >45</text>
<line x1="514.8" y1="244.05" x2="516.5999999999999" y2="244.05" stroke="#7a7a7a" stroke-width="0.9"/>
<line x1="695.6" y1="244.05" x2="693.8000000000001" y2="244.05" stroke="#7a7a7a" stroke-width="0.9"/>
<text x="511.00" y="247.35" font-size="9.3" text-anchor="end" fill="#222" >50</text>
<line x1="514.8" y1="205.30" x2="516.5999999999999" y2="205.30" stroke="#7a7a7a" stroke-width="0.9"/>
<line x1="695.6" y1="205.30" x2="693.8000000000001" y2="205.30" stroke="#7a7a7a" stroke-width="0.9"/>
<text x="511.00" y="208.60" font-size="9.3" text-anchor="end" fill="#222" >55</text>
<circle cx="531.9" cy="228.9" r="5.5" fill="#808080" stroke="#555" stroke-width="0.8"/>
<circle cx="549.1" cy="230.8" r="5.5" fill="#808080" stroke="#555" stroke-width="0.8"/>
<circle cx="598.8" cy="252.2" r="5.5" fill="#808080" stroke="#555" stroke-width="0.8"/>
<circle cx="582.2" cy="276.6" r="5.5" fill="#808080" stroke="#555" stroke-width="0.8"/>
<circle cx="625.0" cy="272.2" r="5.5" fill="#808080" stroke="#555" stroke-width="0.8"/>
<circle cx="620.1" cy="274.8" r="5.5" fill="#808080" stroke="#555" stroke-width="0.8"/>
<circle cx="624.3" cy="294.3" r="5.5" fill="#808080" stroke="#555" stroke-width="0.8"/>
<circle cx="664.3" cy="329.4" r="5.5" fill="#808080" stroke="#555" stroke-width="0.8"/>
<line x1="521.5" y1="215.4" x2="666.5" y2="316.5" stroke="#ff1a1a" stroke-width="1.9" stroke-dasharray="4.7 3.8"/>
<rect x="616.4" y="211.4" width="72.5" height="12.8" fill="#fff" stroke="#8a8a8a" stroke-width="0.9"/>
<line x1="618.4" y1="217.7" x2="640" y2="217.7" stroke="#ff1a1a" stroke-width="1.8" stroke-dasharray="4.6 3.8"/>
<text x="641.60" y="220.80" font-size="8.4" text-anchor="start" fill="#000" >fitted curve</text>
<text x="637.40" y="240.30" font-size="9.2" text-anchor="start" fill="#000" >R</text>
<text x="644.90" y="236.70" font-size="5.8" text-anchor="start" fill="#000" >2</text>
<text x="651.20" y="240.30" font-size="9.3" text-anchor="start" fill="#000" >=0.83549</text>
<text transform="translate(496.2,274.6) rotate(-90)" font-size="10.3" text-anchor="middle" fill="#222">Attenuation (in %)</text>
<text x="607.50" y="356.60" font-size="10.1" text-anchor="middle" fill="#222" >Incidence angle (in degrees)</text>
</svg></body></html>
